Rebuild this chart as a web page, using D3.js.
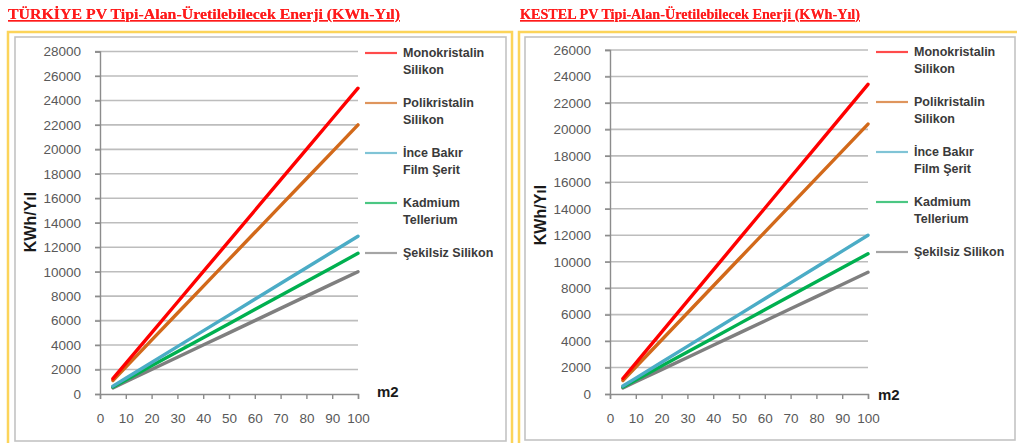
<!DOCTYPE html>
<html>
<head>
<meta charset="utf-8">
<script src="https://cdn.jsdelivr.net/npm/d3@7"></script>
<style>
  html, body { margin: 0; padding: 0; background: #fff; }
  svg { display: block; }
</style>
</head>
<body>
<svg id="chart" width="1017" height="443"></svg>
<script>
// Panel area in m2
const areaM2 = [5, 10, 20, 30, 40, 50, 60, 70, 80, 90, 100];

const seriesNames = [
  ["Monokristalin", "Silikon"],
  ["Polikristalin", "Silikon"],
  ["İnce Bakır", "Film Şerit"],
  ["Kadmium", "Tellerium"],
  ["Şekilsiz Silikon"]
];
const seriesColors = ["#ff0000", "#d2691a", "#4bacc6", "#00b050", "#7f7f7f"];

// Türkiye: yearly energy (KWh/Yıl)
const trMono  = [1250, 2500, 5000, 7500, 10000, 12500, 15000, 17500, 20000, 22500, 25000];
const trPoly  = [1100, 2200, 4400, 6600, 8800, 11000, 13200, 15400, 17600, 19800, 22000];
const trInce  = [645, 1290, 2580, 3870, 5160, 6450, 7740, 9030, 10320, 11610, 12900];
const trKad   = [575, 1150, 2300, 3450, 4600, 5750, 6900, 8050, 9200, 10350, 11500];
const trSek   = [500, 1000, 2000, 3000, 4000, 5000, 6000, 7000, 8000, 9000, 10000];

// Kestel: yearly energy (KWh/Yıl)
const ksMono  = [1170, 2340, 4680, 7020, 9360, 11700, 14040, 16380, 18720, 21060, 23400];
const ksPoly  = [1020, 2040, 4080, 6120, 8160, 10200, 12240, 14280, 16320, 18360, 20400];
const ksInce  = [600, 1200, 2400, 3600, 4800, 6000, 7200, 8400, 9600, 10800, 12000];
const ksKad   = [530, 1060, 2120, 3180, 4240, 5300, 6360, 7420, 8480, 9540, 10600];
const ksSek   = [460, 920, 1840, 2760, 3680, 4600, 5520, 6440, 7360, 8280, 9200];

const xTicks = [0, 10, 20, 30, 40, 50, 60, 70, 80, 90, 100];
const trYTicks = d3.range(0, 28001, 2000);
const ksYTicks = d3.range(0, 26001, 2000);

const titles = [
  "TÜRKİYE PV Tipi-Alan-Üretilebilecek Enerji (KWh-Yıl)",
  "KESTEL PV Tipi-Alan-Üretilebilecek Enerji (KWh-Yıl)"
];

const svg = d3.select("#chart");

function drawPanel(cfg) {
  const g = svg.append("g");

  // title
  g.append("text")
    .attr("x", cfg.titleX).attr("y", 19)
    .attr("font-family", "Liberation Serif, Times New Roman, serif")
    .attr("font-weight", "bold")
    .attr("font-size", 15)
    .attr("fill", "#ff1a1a")
    .attr("text-decoration", "underline")
    .attr("textLength", cfg.titleW).attr("lengthAdjust", "spacingAndGlyphs")
    .style("filter", "drop-shadow(0 0 0.7px rgba(255,0,0,0.7))")
    .text(cfg.title);

  // frames
  g.append("rect")
    .attr("x", cfg.frame[0]).attr("y", cfg.frame[1])
    .attr("width", cfg.frame[2]).attr("height", cfg.frame[3])
    .attr("fill", "none").attr("stroke", "#fcd45a").attr("stroke-width", 2.5);
  g.append("rect")
    .attr("x", cfg.inner[0]).attr("y", cfg.inner[1])
    .attr("width", cfg.inner[2]).attr("height", cfg.inner[3])
    .attr("fill", "#fff").attr("stroke", "#c3c3c3").attr("stroke-width", 1.6);

  const x = d3.scaleLinear().domain([0, 100]).range(cfg.xRange);
  const y = d3.scaleLinear().domain(cfg.yDomain).range(cfg.yRange);

  // gridlines
  g.append("g")
    .selectAll("line").data(cfg.yTicks.filter(d => d > 0)).join("line")
    .attr("x1", cfg.xRange[0] - 5).attr("x2", cfg.xRange[1])
    .attr("y1", d => y(d)).attr("y2", d => y(d))
    .attr("stroke", "#bdbdbd").attr("stroke-width", 1.6);

  // y axis
  const yAxis = g.append("g")
    .attr("transform", `translate(${cfg.xRange[0]},0)`)
    .call(d3.axisLeft(y).tickValues(cfg.yTicks).tickSize(5).tickPadding(14).tickFormat(d3.format("d")));
  yAxis.select(".domain").attr("stroke", "#8c8c8c").attr("stroke-width", 1.4);
  yAxis.selectAll(".tick line").attr("stroke", "#8c8c8c").attr("stroke-width", 1.4);
  yAxis.selectAll(".tick text")
    .attr("font-family", "Liberation Sans, Arial, sans-serif")
    .attr("font-size", 13.5).attr("fill", "#595959");

  // x axis
  const xAxis = g.append("g")
    .attr("transform", `translate(0,${cfg.yRange[0]})`)
    .call(d3.axisBottom(x).tickValues(xTicks).tickSize(5).tickPadding(14).tickFormat(d3.format("d")));
  xAxis.select(".domain").attr("stroke", "#8c8c8c").attr("stroke-width", 1.4);
  xAxis.selectAll(".tick line").attr("stroke", "#8c8c8c").attr("stroke-width", 1.4);
  xAxis.selectAll(".tick text")
    .attr("font-family", "Liberation Sans, Arial, sans-serif")
    .attr("font-size", 13.5).attr("fill", "#595959");

  // series lines (drawn bottom-up so the top series sits on top)
  const line = d3.line().x((d, i) => x(areaM2[i])).y(d => y(d));
  for (let s = cfg.series.length - 1; s >= 0; s--) {
    g.append("path")
      .datum(cfg.series[s])
      .attr("d", line)
      .attr("fill", "none")
      .attr("stroke", seriesColors[s])
      .attr("stroke-width", 3.4)
      .attr("stroke-linecap", "round");
  }

  // axis titles
  g.append("text")
    .attr("transform", `translate(${cfg.yTitleX},${cfg.yTitleY}) rotate(-90)`)
    .attr("text-anchor", "middle")
    .attr("font-family", "Liberation Sans, Arial, sans-serif")
    .attr("font-weight", "bold").attr("font-size", 16).attr("fill", "#1a1a1a")
    .text("KWh/Yıl");
  g.append("text")
    .attr("x", cfg.m2[0]).attr("y", cfg.m2[1])
    .attr("font-family", "Liberation Sans, Arial, sans-serif")
    .attr("font-weight", "bold").attr("font-size", 15).attr("fill", "#1a1a1a")
    .text("m2");

  // legend
  const leg = g.append("g");
  seriesNames.forEach((lines, i) => {
    const cy = cfg.legY0 + i * 50;
    leg.append("line")
      .attr("x1", cfg.legX).attr("x2", cfg.legX + 32)
      .attr("y1", cy).attr("y2", cy)
      .attr("stroke", seriesColors[i]).attr("stroke-width", 2.2).attr("opacity", 0.7);
    const tx = leg.append("text")
      .attr("x", cfg.legX + 38).attr("y", cy + 4)
      .attr("font-family", "Liberation Sans, Arial, sans-serif")
      .attr("font-weight", "bold").attr("font-size", 12.5).attr("fill", "#3a3a3a");
    lines.forEach((ln, k) => {
      tx.append("tspan").attr("x", cfg.legX + 38).attr("dy", k === 0 ? 0 : 17).text(ln);
    });
  });
}

drawPanel({
  title: titles[0], titleX: 8, titleW: 392,
  frame: [8, 32, 504, 420], inner: [15, 37, 491, 404],
  xRange: [100, 358], yDomain: [0, 28000], yRange: [394, 51.5], yTicks: trYTicks,
  series: [trMono, trPoly, trInce, trKad, trSek],
  yTitleX: 36, yTitleY: 222, m2: [377, 397],
  legX: 365, legY0: 53
});

drawPanel({
  title: titles[1], titleX: 520, titleW: 340,
  frame: [519, 32, 504, 420], inner: [525, 37, 490, 403],
  xRange: [610, 868], yDomain: [0, 26000], yRange: [394, 50], yTicks: ksYTicks,
  series: [ksMono, ksPoly, ksInce, ksKad, ksSek],
  yTitleX: 546, yTitleY: 215, m2: [878, 400],
  legX: 876, legY0: 52
});
</script>
</body>
</html>
